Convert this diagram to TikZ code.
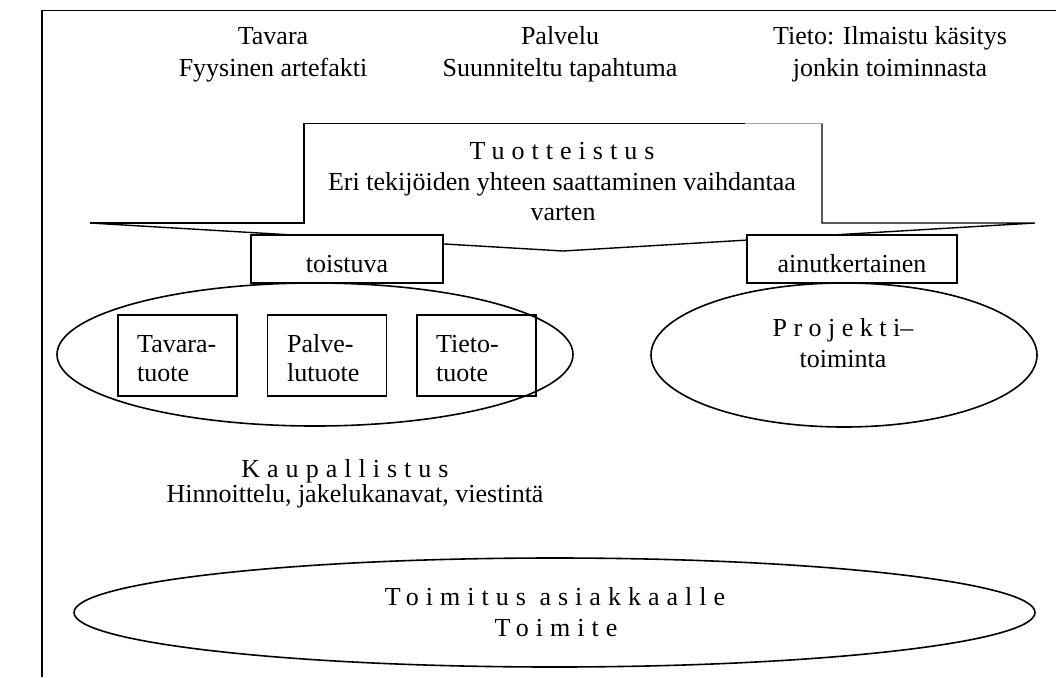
\documentclass[tikz,border=0pt]{standalone}
\usepackage{fontspec}
\setmainfont{Liberation Serif}
\usetikzlibrary{shapes.geometric}
\begin{document}
\begin{tikzpicture}[x=1pt,y=-1pt,
  every node/.style={font=\fontsize{26}{30}\selectfont, inner sep=0pt},
  txt/.style={anchor=base},
  ltxt/.style={anchor=base west},
  sp/.style={anchor=base, font=\fontsize{26}{30}\selectfont\addfontfeatures{LetterSpace=27}},
  box/.style={draw, line width=1.4pt, fill=white, minimum width=#1, minimum height=48, text height=26pt, text depth=0pt},
  pbox/.style={draw, line width=1.4pt, minimum width=119, minimum height=81},
  oval/.style={draw, ellipse, line width=1.6pt, inner sep=0pt},
  edge/.style={line width=1.4pt, line join=miter}
]
\useasboundingbox (0,0) rectangle (1056,677);
% frame
\coordinate (fb) at (42,677);
\coordinate (fc) at (42,10.5);
\coordinate (fr) at (1056,10.5);
\draw[edge] (fb) -- (fc) -- (fr);

% top headings
\node[txt] (t1a) at (273,45) {Tavara};
\node[txt] (t1b) at (273,76) {Fyysinen artefakti};
\node[txt] (t2a) at (560,45) {Palvelu};
\node[txt] (t2b) at (560,76) {Suunniteltu tapahtuma};
\node[txt] (t3a) at (890,45) {Tieto: Ilmaistu käsitys};
\node[txt] (t3b) at (890,76) {jonkin toiminnasta};

% callout
\coordinate (cl) at (90,223);
\coordinate (c1) at (304,223);
\coordinate (c2) at (304,123.5);
\coordinate (c3) at (745,123.5);
\coordinate (c4) at (822,123.5);
\coordinate (c5) at (822,223);
\coordinate (cr) at (1035,223);
\coordinate (tip) at (563,251);
\draw[edge] (cl) -- (c1) -- (c2) -- (c3);
\draw[gray!70, line width=0.8pt] (c3) -- (c4);
\draw[edge] (c4) -- (c5) -- (cr) -- (tip) -- (cl);
\node[sp] (tu1) at (562,159) {Tuotteistus};
\node[txt] (tu2) at (562,190) {Eri tekijöiden yhteen saattaminen vaihdantaa};
\node[txt] (tu3) at (563,220) {varten};

% ellipses
\node[oval, minimum width=516, minimum height=143] (eL) at (315,354.5) {};
\node[oval, minimum width=386, minimum height=144] (eR) at (844,355) {};
\node[oval, minimum width=961, minimum height=109] (eB) at (554.5,612.5) {};

% label boxes
\node[box=192] (toist) at (347,259) {toistuva};
\node[box=210] (ainut) at (852,259) {ainutkertainen};

% product boxes
\node[pbox] (p1) at (177.5,355.5) {};
\node[pbox] (p2) at (327,355.5) {};
\node[pbox] (p3) at (476.5,355.5) {};
\node[ltxt] (p1a) at (137,352) {Tavara-};
\node[ltxt] (p1b) at (137,381) {tuote};
\node[ltxt] (p2a) at (287,352) {Palve-};
\node[ltxt] (p2b) at (287,381) {lutuote};
\node[ltxt] (p3a) at (436,352) {Tieto-};
\node[ltxt] (p3b) at (436,381) {tuote};

% project
\node[anchor=base, font=\fontsize{26}{30}\selectfont\addfontfeatures{LetterSpace=25}] (pr1) at (843,336) {Projekti{\addfontfeatures{LetterSpace=0}–}};
\node[txt] (pr2) at (843,367) {toiminta};

% kaupallistus
\node[sp] (k1) at (345,477) {Kaupallistus};
\node[txt] (k2) at (355,502) {Hinnoittelu, jakelukanavat, viestintä};

% delivery
\node[sp] (d1) at (555,605) {Toimitus asiakkaalle};
\node[sp] (d2) at (556,636) {Toimite};
\end{tikzpicture}
\end{document}
